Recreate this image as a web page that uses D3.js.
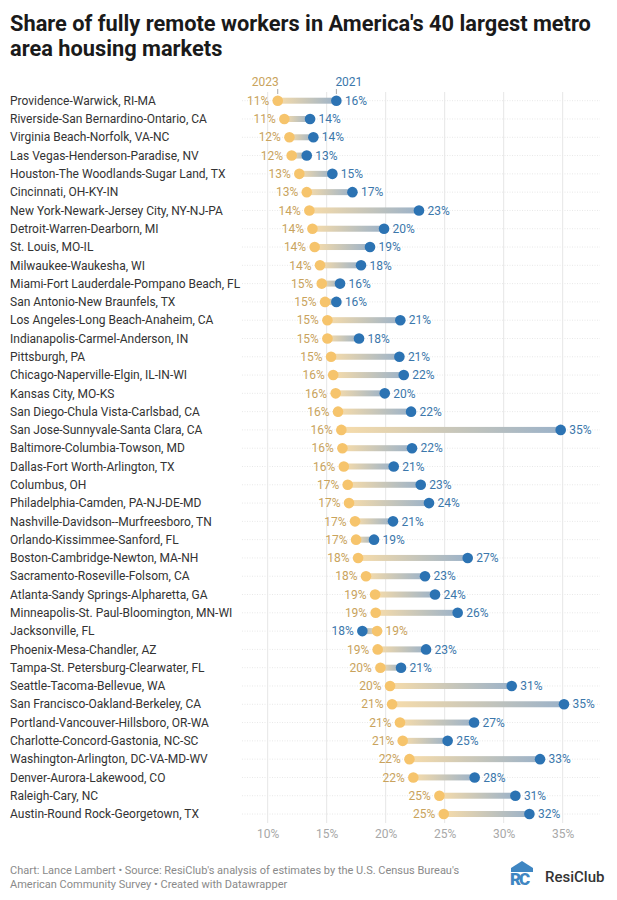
<!DOCTYPE html>
<html>
<head>
<meta charset="utf-8">
<script src="https://cdn.jsdelivr.net/npm/d3@7"></script>
<style>
  body { margin: 0; background: #fff; font-family: Roboto, "Noto Sans", sans-serif; }
  svg text { font-family: Roboto, "Noto Sans", sans-serif; }
</style>
</head>
<body>
<svg id="chart" width="617" height="900"></svg>
<script>
// Metro areas, top to bottom
const metros = [
  'Providence-Warwick, RI-MA',
  'Riverside-San Bernardino-Ontario, CA',
  'Virginia Beach-Norfolk, VA-NC',
  'Las Vegas-Henderson-Paradise, NV',
  'Houston-The Woodlands-Sugar Land, TX',
  'Cincinnati, OH-KY-IN',
  'New York-Newark-Jersey City, NY-NJ-PA',
  'Detroit-Warren-Dearborn, MI',
  'St. Louis, MO-IL',
  'Milwaukee-Waukesha, WI',
  'Miami-Fort Lauderdale-Pompano Beach, FL',
  'San Antonio-New Braunfels, TX',
  'Los Angeles-Long Beach-Anaheim, CA',
  'Indianapolis-Carmel-Anderson, IN',
  'Pittsburgh, PA',
  'Chicago-Naperville-Elgin, IL-IN-WI',
  'Kansas City, MO-KS',
  'San Diego-Chula Vista-Carlsbad, CA',
  'San Jose-Sunnyvale-Santa Clara, CA',
  'Baltimore-Columbia-Towson, MD',
  'Dallas-Fort Worth-Arlington, TX',
  'Columbus, OH',
  'Philadelphia-Camden, PA-NJ-DE-MD',
  'Nashville-Davidson--Murfreesboro, TN',
  'Orlando-Kissimmee-Sanford, FL',
  'Boston-Cambridge-Newton, MA-NH',
  'Sacramento-Roseville-Folsom, CA',
  'Atlanta-Sandy Springs-Alpharetta, GA',
  'Minneapolis-St. Paul-Bloomington, MN-WI',
  'Jacksonville, FL',
  'Phoenix-Mesa-Chandler, AZ',
  'Tampa-St. Petersburg-Clearwater, FL',
  'Seattle-Tacoma-Bellevue, WA',
  'San Francisco-Oakland-Berkeley, CA',
  'Portland-Vancouver-Hillsboro, OR-WA',
  'Charlotte-Concord-Gastonia, NC-SC',
  'Washington-Arlington, DC-VA-MD-WV',
  'Denver-Aurora-Lakewood, CO',
  'Raleigh-Cary, NC',
  'Austin-Round Rock-Georgetown, TX'
];

// Share of fully remote workers (%)
const share2023 = [
  10.85, 11.41, 11.84, 12.03, 12.68, 13.31, 13.53, 13.79, 13.98, 14.43,
  14.58, 14.86, 15.06, 15.06, 15.37, 15.55, 15.76, 15.96, 16.24, 16.33,
  16.45, 16.78, 16.89, 17.40, 17.49, 17.66, 18.33, 19.10, 19.15, 19.27,
  19.32, 19.55, 20.37, 20.54, 21.21, 21.44, 22.01, 22.34, 24.55, 24.92
];
const share2021 = [
  15.82, 13.59, 13.87, 13.31, 15.48, 17.18, 22.82, 19.86, 18.67, 17.91,
  16.13, 15.82, 21.24, 17.74, 21.16, 21.53, 19.92, 22.15, 34.83, 22.23,
  20.68, 22.97, 23.67, 20.62, 19.01, 26.95, 23.33, 24.18, 26.10, 18.02,
  23.42, 21.30, 30.68, 35.11, 27.49, 25.25, 33.08, 27.54, 30.99, 32.18
];

const xTicks = [10, 15, 20, 25, 30, 35];

const colors = {
  dot2023: '#f6c46c',
  dot2021: '#2c73b3',
  label2023: '#c9a35c',
  label2021: '#3b77ab',
  line2023: '#f7dcaa',
  line2021: '#9bb2c9'
};

const svg = d3.select('#chart');

const margin = { left: 10, top: 100.7 };
const rowStep = 18.29;

const xScale = d3.scaleLinear().domain([10, 35]).range([267.7, 562.7]);
const yScale = d3.scalePoint()
  .domain(metros)
  .range([margin.top, margin.top + rowStep * (metros.length - 1)]);

const data = metros.map((m, i) => ({ metro: m, v23: share2023[i], v21: share2021[i] }));
const fmt = v => Math.round(v) + '%';

// Title
svg.append('text')
  .attr('x', 10).attr('y', 31)
  .attr('font-size', 21.8).attr('font-weight', 700).attr('fill', '#1a1a1a')
  .text("Share of fully remote workers in America's 40 largest metro");
svg.append('text')
  .attr('x', 10).attr('y', 56)
  .attr('font-size', 21.8).attr('font-weight', 700).attr('fill', '#1a1a1a')
  .text('area housing markets');

// Gradients for connecting bars
const defs = svg.append('defs');
const fwd = defs.append('linearGradient').attr('id', 'grad-fwd');
fwd.append('stop').attr('offset', '0%').attr('stop-color', colors.line2023);
fwd.append('stop').attr('offset', '100%').attr('stop-color', colors.line2021);
const rev = defs.append('linearGradient').attr('id', 'grad-rev');
rev.append('stop').attr('offset', '0%').attr('stop-color', colors.line2021);
rev.append('stop').attr('offset', '100%').attr('stop-color', colors.line2023);

// Vertical grid
const yTop = 92, yBottom = 823;
svg.append('g')
  .selectAll('line')
  .data(xTicks)
  .join('line')
  .attr('x1', d => xScale(d)).attr('x2', d => xScale(d))
  .attr('y1', yTop).attr('y2', yBottom)
  .attr('stroke', '#e6e6e6').attr('stroke-width', 1);

// Row dotted lines
svg.append('g')
  .selectAll('line')
  .data(data)
  .join('line')
  .attr('x1', 242).attr('x2', 600)
  .attr('y1', d => yScale(d.metro)).attr('y2', d => yScale(d.metro))
  .attr('stroke', '#e8e8e8').attr('stroke-width', 1)
  .attr('stroke-dasharray', '1,1.5');

// X axis labels
const xAxis = d3.axisBottom(xScale)
  .tickValues(xTicks)
  .tickFormat(d => d + '%')
  .tickSize(0)
  .tickPadding(0);
const gx = svg.append('g')
  .attr('transform', `translate(0, ${yBottom + 6})`)
  .call(xAxis);
gx.select('.domain').remove();
gx.selectAll('text')
  .attr('fill', '#a8a8a8')
  .attr('font-size', 12)
  .attr('dy', '0.71em');

// Metro labels
svg.append('g')
  .selectAll('text')
  .data(data)
  .join('text')
  .attr('x', margin.left)
  .attr('y', d => yScale(d.metro))
  .attr('dy', '0.35em')
  .attr('font-size', 12)
  .attr('fill', '#333')
  .text(d => d.metro);

// Connecting bars
const rows = svg.append('g');
rows.selectAll('rect')
  .data(data)
  .join('rect')
  .attr('x', d => xScale(Math.min(d.v23, d.v21)))
  .attr('width', d => Math.abs(xScale(d.v21) - xScale(d.v23)))
  .attr('y', d => yScale(d.metro) - 3)
  .attr('height', 6)
  .attr('fill', d => d.v21 >= d.v23 ? 'url(#grad-fwd)' : 'url(#grad-rev)');

// Dots
rows.selectAll('circle.d23')
  .data(data)
  .join('circle')
  .attr('class', 'd23')
  .attr('cx', d => xScale(d.v23))
  .attr('cy', d => yScale(d.metro))
  .attr('r', 5.3)
  .attr('fill', colors.dot2023);
rows.selectAll('circle.d21')
  .data(data)
  .join('circle')
  .attr('class', 'd21')
  .attr('cx', d => xScale(d.v21))
  .attr('cy', d => yScale(d.metro))
  .attr('r', 5.3)
  .attr('fill', colors.dot2021);

// Value labels: lower value on the left, higher on the right
const labelPad = 8.5;
rows.selectAll('text.l23')
  .data(data)
  .join('text')
  .attr('class', 'l23')
  .attr('x', d => d.v23 <= d.v21 ? xScale(d.v23) - labelPad : xScale(d.v23) + labelPad)
  .attr('text-anchor', d => d.v23 <= d.v21 ? 'end' : 'start')
  .attr('y', d => yScale(d.metro))
  .attr('dy', '0.35em')
  .attr('font-size', 12)
  .attr('fill', colors.label2023)
  .text(d => fmt(d.v23));
rows.selectAll('text.l21')
  .data(data)
  .join('text')
  .attr('class', 'l21')
  .attr('x', d => d.v21 > d.v23 ? xScale(d.v21) + labelPad : xScale(d.v21) - labelPad)
  .attr('text-anchor', d => d.v21 > d.v23 ? 'start' : 'end')
  .attr('y', d => yScale(d.metro))
  .attr('dy', '0.35em')
  .attr('font-size', 12)
  .attr('fill', colors.label2021)
  .text(d => fmt(d.v21));

// Legend above the first row
const first = data[0];
const legend = svg.append('g');
legend.append('text')
  .attr('x', xScale(first.v23) + 1).attr('y', 86)
  .attr('text-anchor', 'end')
  .attr('font-size', 12).attr('fill', colors.label2023)
  .text('2023');
legend.append('text')
  .attr('x', xScale(first.v21) - 1).attr('y', 86)
  .attr('text-anchor', 'start')
  .attr('font-size', 12).attr('fill', colors.label2021)
  .text('2021');
legend.selectAll('line')
  .data([first.v23, first.v21])
  .join('line')
  .attr('x1', d => xScale(d)).attr('x2', d => xScale(d))
  .attr('y1', 89).attr('y2', 94)
  .attr('stroke', '#aaa').attr('stroke-width', 1);

// Footer
const foot = svg.append('g').attr('font-size', 11).attr('fill', '#8a8a8a');
foot.append('text').attr('x', 10).attr('y', 874)
  .text("Chart: Lance Lambert \u2022 Source: ResiClub's analysis of estimates by the U.S. Census Bureau's");
foot.append('text').attr('x', 10).attr('y', 888)
  .text('American Community Survey \u2022 Created with Datawrapper');

// Logo
const logo = svg.append('g').attr('transform', 'translate(511, 861)');
logo.append('path')
  .attr('d', 'M11,0 L22,7 L22,11 L0,11 L0,7 Z')
  .attr('fill', '#3f86c2');
logo.append('text')
  .attr('x', -1).attr('y', 24)
  .attr('font-size', 17).attr('font-weight', 900)
  .attr('fill', '#3f86c2').attr('letter-spacing', -2)
  .text('RC');
svg.append('text')
  .attr('x', 545).attr('y', 882)
  .attr('font-size', 15).attr('font-weight', 500)
  .attr('fill', '#333')
  .text('ResiClub');
</script>
</body>
</html>
